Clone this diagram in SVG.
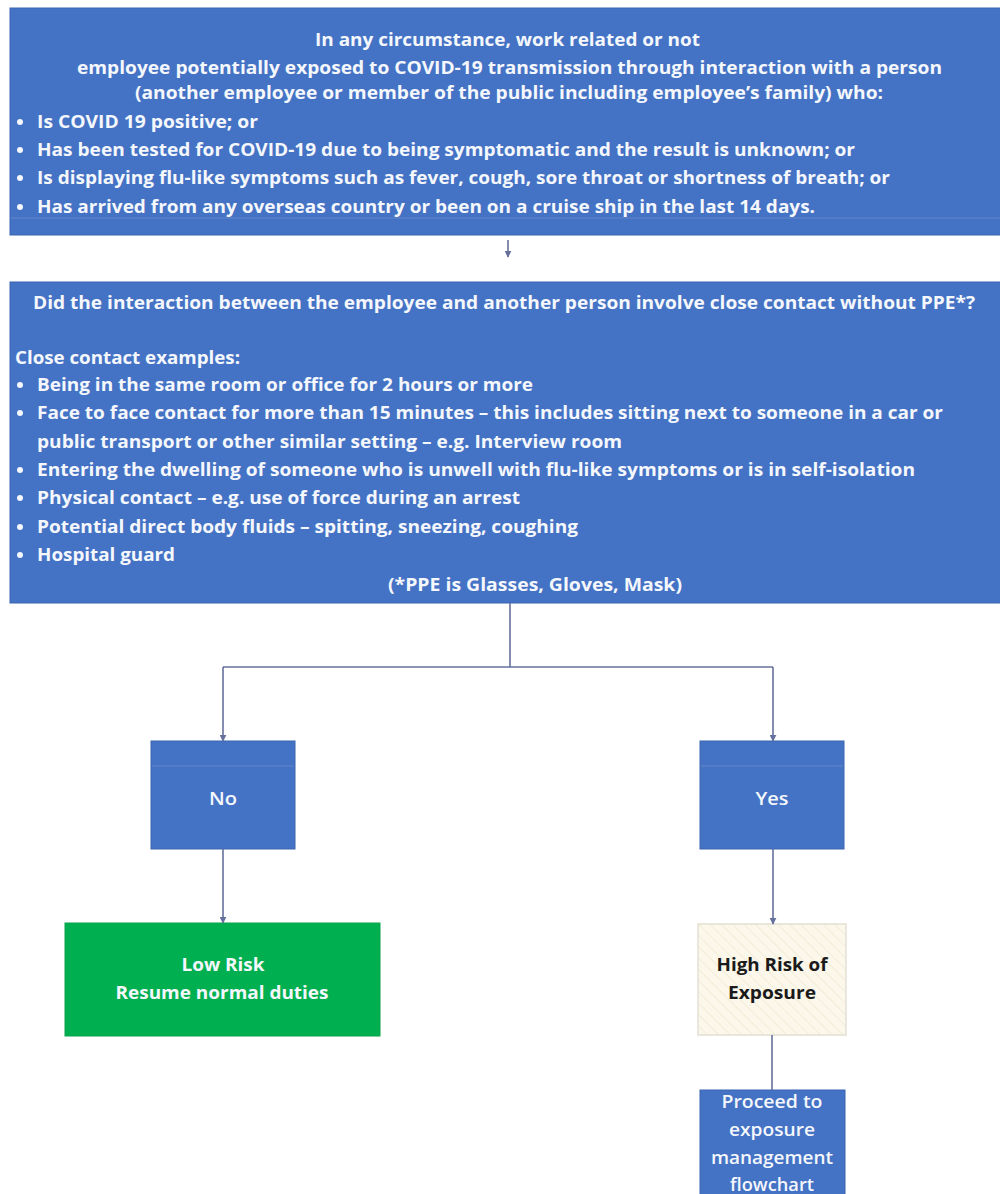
<svg xmlns="http://www.w3.org/2000/svg" width="1000" height="1194" viewBox="0 0 1000 1194">
  <style>
    .box { fill: #4472C4; stroke: #3b64b0; stroke-width: 1; }
    .t { font-family: "Open Sans", "Liberation Sans", sans-serif; font-weight: 700; font-size: 18px; fill: #F4F7FC; }
    .tc { text-anchor: middle; }
    .tr { font-family: "Open Sans", "Liberation Sans", sans-serif; font-weight: 600; font-size: 18px; fill: #F4F7FC; text-anchor: middle; }
    .tk { font-family: "Open Sans", "Liberation Sans", sans-serif; font-weight: 700; font-size: 18px; fill: #1a1a1a; text-anchor: middle; }
    .dot { fill: #F4F7FC; }
    .conn { stroke: #66709C; stroke-width: 1.6; fill: none; }
    .art { stroke: #6485c9; stroke-width: 1; }
  </style>
  <defs>
    <marker id="arr" viewBox="0 0 10 10" refX="9" refY="5" markerWidth="7" markerHeight="7" markerUnits="userSpaceOnUse" orient="auto">
      <path d="M0,0 L10,5 L0,10 z" fill="#66709C"/>
    </marker>
    <pattern id="hatch" width="8" height="8" patternUnits="userSpaceOnUse" patternTransform="rotate(-45)">
      <rect width="8" height="8" fill="#FBF7EA"/>
      <line x1="0" y1="0" x2="0" y2="8" stroke="#F2ECD8" stroke-width="2"/>
    </pattern>
  </defs>
  <rect width="1000" height="1194" fill="#ffffff"/>

  <g id="node-exposure">
    <rect class="box" x="10" y="8" width="995" height="227"/>
    <line class="art" x1="11" y1="218" x2="1000" y2="218"/>
    <text class="t" x="315" y="46" textLength="385" lengthAdjust="spacingAndGlyphs">In any circumstance, work related or not</text>
    <text class="t" x="77" y="74" textLength="865" lengthAdjust="spacingAndGlyphs">employee potentially exposed to COVID-19 transmission through interaction with a person</text>
    <text class="t" x="135" y="99" textLength="748" lengthAdjust="spacingAndGlyphs">(another employee or member of the public including employee’s family) who:</text>
    <circle class="dot" cx="20" cy="122" r="3"/>
    <text class="t" x="37" y="128" textLength="221" lengthAdjust="spacingAndGlyphs">Is COVID 19 positive; or</text>
    <circle class="dot" cx="20" cy="150" r="3"/>
    <text class="t" x="37" y="156" textLength="818" lengthAdjust="spacingAndGlyphs">Has been tested for COVID-19 due to being symptomatic and the result is unknown; or</text>
    <circle class="dot" cx="20" cy="178" r="3"/>
    <text class="t" x="37" y="184" textLength="853" lengthAdjust="spacingAndGlyphs">Is displaying flu-like symptoms such as fever, cough, sore throat or shortness of breath; or</text>
    <circle class="dot" cx="20" cy="207" r="3"/>
    <text class="t" x="37" y="213" textLength="778" lengthAdjust="spacingAndGlyphs">Has arrived from any overseas country or been on a cruise ship in the last 14 days.</text>
  </g>

  <g id="node-question">
    <rect class="box" x="10" y="282" width="995" height="321"/>
    <text class="t" x="33" y="309" textLength="942" lengthAdjust="spacingAndGlyphs">Did the interaction between the employee and another person involve close contact without PPE*?</text>
    <text class="t" x="15" y="364" textLength="225" lengthAdjust="spacingAndGlyphs">Close contact examples:</text>
    <circle class="dot" cx="20" cy="385" r="3"/>
    <text class="t" x="37" y="391" textLength="496" lengthAdjust="spacingAndGlyphs">Being in the same room or office for 2 hours or more</text>
    <circle class="dot" cx="20" cy="413" r="3"/>
    <text class="t" x="37" y="419" textLength="906" lengthAdjust="spacingAndGlyphs">Face to face contact for more than 15 minutes – this includes sitting next to someone in a car or</text>
    <text class="t" x="37" y="448" textLength="585" lengthAdjust="spacingAndGlyphs">public transport or other similar setting – e.g. Interview room</text>
    <circle class="dot" cx="20" cy="470" r="3"/>
    <text class="t" x="37" y="476" textLength="878" lengthAdjust="spacingAndGlyphs">Entering the dwelling of someone who is unwell with flu-like symptoms or is in self-isolation</text>
    <circle class="dot" cx="20" cy="498" r="3"/>
    <text class="t" x="37" y="504" textLength="483" lengthAdjust="spacingAndGlyphs">Physical contact – e.g. use of force during an arrest</text>
    <circle class="dot" cx="20" cy="527" r="3"/>
    <text class="t" x="37" y="533" textLength="541" lengthAdjust="spacingAndGlyphs">Potential direct body fluids – spitting, sneezing, coughing</text>
    <circle class="dot" cx="20" cy="555" r="3"/>
    <text class="t" x="37" y="561" textLength="138" lengthAdjust="spacingAndGlyphs">Hospital guard</text>
    <text class="t" x="388" y="591" textLength="294" lengthAdjust="spacingAndGlyphs">(*PPE is Glasses, Gloves, Mask)</text>
  </g>

  <g id="node-no">
    <rect class="box" x="151" y="741" width="144" height="108"/>
    <line class="art" x1="152" y1="766" x2="294" y2="766"/>
    <text class="tr" x="223" y="805" textLength="28" lengthAdjust="spacingAndGlyphs">No</text>
  </g>

  <g id="node-yes">
    <rect class="box" x="700" y="741" width="144" height="108"/>
    <line class="art" x1="701" y1="766" x2="843" y2="766"/>
    <text class="tr" x="772" y="805" textLength="33" lengthAdjust="spacingAndGlyphs">Yes</text>
  </g>

  <g id="node-low-risk">
    <rect x="65" y="923" width="315" height="113" fill="#00B050" stroke="#0aa34c" stroke-width="1"/>
    <text class="t tc" x="223" y="971" textLength="83" lengthAdjust="spacingAndGlyphs">Low Risk</text>
    <text class="t tc" x="222" y="999" textLength="213" lengthAdjust="spacingAndGlyphs">Resume normal duties</text>
  </g>

  <g id="node-high-risk">
    <rect x="698" y="924" width="148" height="111" fill="url(#hatch)" stroke="#E3DFD2" stroke-width="1.5"/>
    <text class="tk" x="772" y="971" textLength="111" lengthAdjust="spacingAndGlyphs">High Risk of</text>
    <text class="tk" x="772" y="999" textLength="88" lengthAdjust="spacingAndGlyphs">Exposure</text>
  </g>

  <g id="node-proceed">
    <rect class="box" x="700" y="1090" width="145" height="110"/>
    <text class="tr" x="772" y="1108" textLength="101" lengthAdjust="spacingAndGlyphs">Proceed to</text>
    <text class="tr" x="772" y="1136" textLength="86" lengthAdjust="spacingAndGlyphs">exposure</text>
    <text class="tr" x="772" y="1164" textLength="122" lengthAdjust="spacingAndGlyphs">management</text>
    <text class="tr" x="772" y="1191" textLength="84" lengthAdjust="spacingAndGlyphs">flowchart</text>
  </g>

  <g id="connectors">
    <line class="conn" x1="508" y1="240" x2="508" y2="257" stroke-width="1" marker-end="url(#arr)"/>
    <polyline class="conn" points="510,603 510,667"/>
    <polyline class="conn" points="223,667 773,667"/>
    <line class="conn" x1="223" y1="667" x2="223" y2="741" marker-end="url(#arr)"/>
    <line class="conn" x1="773" y1="667" x2="773" y2="741" marker-end="url(#arr)"/>
    <line class="conn" x1="223" y1="849" x2="223" y2="923" marker-end="url(#arr)"/>
    <line class="conn" x1="773" y1="849" x2="773" y2="924" marker-end="url(#arr)"/>
    <line class="conn" x1="772" y1="1035" x2="772" y2="1090"/>
  </g>
</svg>
